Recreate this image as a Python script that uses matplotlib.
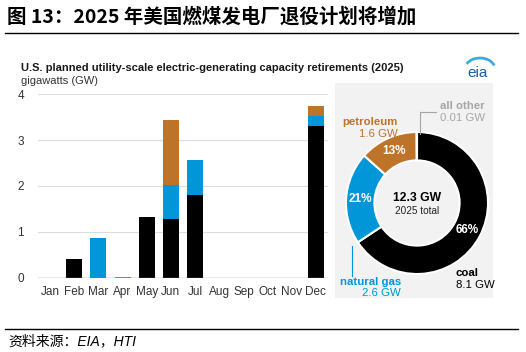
import matplotlib
matplotlib.use("Agg")
import matplotlib.pyplot as plt
import numpy as np
from matplotlib.patches import Rectangle, Arc
from matplotlib.lines import Line2D

############################## Datos ##############################
months = ["Jan", "Feb", "Mar", "Apr", "May", "Jun", "Jul", "Aug", "Sep", "Oct", "Nov", "Dec"]
coal      = [0, 0.40, 0, 0, 1.33, 1.27, 1.80, 0, 0, 0, 0, 3.31]
gas       = [0, 0, 0.86, 0, 0, 0.75, 0.76, 0, 0, 0, 0, 0.22]
petroleum = [0, 0, 0, 0.02, 0, 1.41, 0, 0, 0, 0, 0, 0.21]
all_other = 0.01
yticks = [0, 1, 2, 3, 4]

c_coal = "#000000"
c_gas = "#0096d7"
c_pet = "#bd732a"
c_other = "#a6a6a6"

W, H = 526, 352
def fx(x): return x / W
def fy(y): return 1 - y / H

plt.rcParams['font.family'] = ['Liberation Sans', 'Noto Sans CJK SC', 'DejaVu Sans']

fig = plt.figure(figsize=(5.26, 3.52), dpi=100)

############################## Titulo ##############################
fig.text(fx(7), fy(17), "图 13：2025 年美国燃煤发电厂退役计划将增加", fontsize=14, fontweight="bold",
         family=['Noto Sans CJK SC', 'DejaVu Sans'], va="center", ha="left")
fig.add_artist(Line2D([fx(5), fx(518)], [fy(33), fy(33)], color="black", lw=1))
fig.add_artist(Line2D([fx(5), fx(518)], [fy(329), fy(329)], color="black", lw=1))
fig.text(fx(8), fy(341), "资料来源：EIA，HTI", fontsize=10, style="italic",
         family=['Liberation Sans', 'Noto Sans CJK SC', 'DejaVu Sans'], va="center", ha="left")

fig.text(fx(21), fy(68), "U.S. planned utility-scale electric-generating capacity retirements (2025)",
         fontsize=8, fontweight="bold", va="center", ha="left", color="#1a1a1a")
fig.text(fx(21), fy(81), "gigawatts (GW)", fontsize=8, va="center", ha="left", color="#333333")

# logo eia
fig.text(fx(478), fy(73), "eia", fontsize=11, color="#1b5c9e", ha="center", va="center")
fig.add_artist(Arc((fx(480), fy(69)), 30 / W, 22 / H, theta1=20, theta2=150,
                   transform=fig.transFigure, color="#3fa9e0", lw=2))

############################## Barras ##############################
ax = fig.add_axes([fx(38), fy(277.7), (328 - 38) / W, (277.7 - 94.3) / H])
x = np.arange(len(months))
bw = 0.66
ax.bar(x, coal, bw, color=c_coal, zorder=3)
ax.bar(x, gas, bw, bottom=coal, color=c_gas, zorder=3)
ax.bar(x, petroleum, bw, bottom=np.array(coal) + np.array(gas), color=c_pet, zorder=3)

ax.set_xlim(-0.5, len(months) - 0.5)
ax.set_ylim(0, 4)
ax.set_yticks(yticks)
ax.set_xticks(x)
ax.set_xticklabels(months)
for s in ax.spines.values():
    s.set_visible(False)
ax.tick_params(length=0, labelsize=8.5, colors="#333333")
ax.tick_params(axis="y", pad=10)
ax.tick_params(axis="x", pad=6)
for t in yticks[1:]:
    ax.axhline(t, color="#dcdcdc", lw=0.8, zorder=1)
ax.axhline(0, color="#888888", lw=1, zorder=4)

############################## Dona ##############################
fig.add_artist(Rectangle((fx(335), fy(298)), 158 / W, 215 / H, transform=fig.transFigure,
                         facecolor="#f2f2f2", edgecolor="none", zorder=0))

totals = [sum(coal), sum(gas), sum(petroleum), all_other]
total = sum(totals)

r = 71
axp = fig.add_axes([fx(417 - r), fy(203 + r), 2 * r / W, 2 * r / H])
axp.patch.set_alpha(0)
wedges, _, autotexts = axp.pie(totals, colors=[c_coal, c_gas, c_pet, c_other], startangle=90,
                               counterclock=False, radius=1,
                               wedgeprops=dict(width=0.4, edgecolor="white", linewidth=1.5),
                               autopct=lambda p: f"{p:.0f}%" if p >= 1 else "", pctdistance=0.8)
for t in autotexts:
    t.set_color("white")
    t.set_fontweight("bold")
    t.set_fontsize(8.5)
axp.set_xlim(-1, 1)
axp.set_ylim(-1, 1)

fig.text(fx(417), fy(198), f"{total:.1f} GW", fontsize=8.7, fontweight="bold", ha="center", va="center")
fig.text(fx(417), fy(211), "2025 total", fontsize=7.2, ha="center", va="center", color="#222222")

fs = 8.2
fig.text(fx(398), fy(122), "petroleum", fontsize=fs, fontweight="bold", color=c_pet, ha="right", va="center")
fig.text(fx(398), fy(134), f"{totals[2]:.1f} GW", fontsize=fs, color=c_pet, ha="right", va="center")

fig.text(fx(440), fy(106), "all other", fontsize=fs, fontweight="bold", color=c_other, ha="left", va="center")
fig.text(fx(440), fy(118), f"{all_other:.2f} GW", fontsize=fs, color=c_other, ha="left", va="center")
fig.add_artist(Line2D([fx(420), fx(420), fx(436)], [fy(134), fy(112), fy(112)], color=c_other, lw=0.8))

fig.text(fx(340), fy(282), "natural gas", fontsize=fs, fontweight="bold", color=c_gas, ha="left", va="center")
fig.text(fx(362), fy(293), f"{totals[1]:.1f} GW", fontsize=fs, color=c_gas, ha="left", va="center")
fig.add_artist(Line2D([fx(352), fx(352)], [fy(246), fy(276)], color=c_gas, lw=0.8))

fig.text(fx(456), fy(273), "coal", fontsize=fs, fontweight="bold", color="black", ha="left", va="center")
fig.text(fx(456), fy(285), f"{totals[0]:.1f} GW", fontsize=fs, color="black", ha="left", va="center")

fig.savefig("out.png", dpi=100)
